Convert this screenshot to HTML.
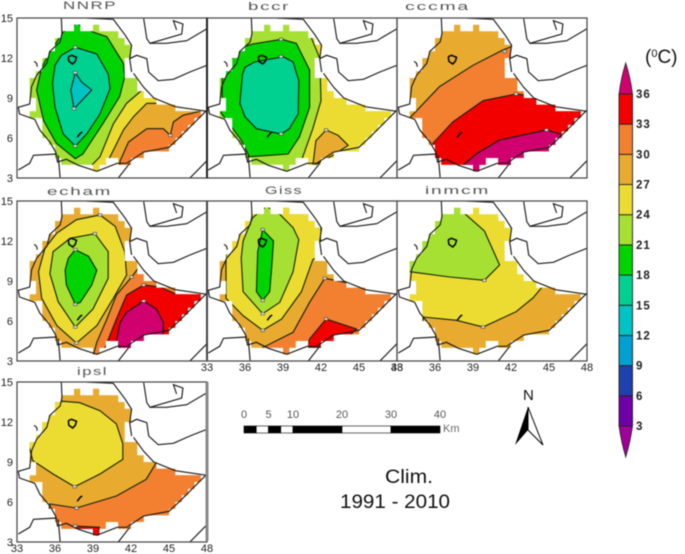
<!DOCTYPE html>
<html lang="en">
<head>
<meta charset="utf-8">
<title>Climatology 1991-2010 temperature maps</title>
<style>
html,body{margin:0;padding:0;background:#fff;width:685px;height:554px;overflow:hidden}
svg{display:block;filter:blur(0.55px)}
text{font-family:"Liberation Sans",sans-serif}
</style>
</head>
<body>
<svg id="figure" xmlns="http://www.w3.org/2000/svg" width="685" height="554" viewBox="0 0 685 554">
  <defs id="defs"></defs>
  <g id="panels"></g>
  <g id="colorbar"></g>
  <text x="645" y="63" font-size="19" fill="#111">(<tspan font-size="11" dy="-6">0</tspan><tspan dy="6">C)</tspan></text>
  <g id="scalebar"></g>
  <g>
    <text x="523" y="400" font-size="15" fill="#111">N</text>
    <polygon points="528,407 515,445 528,430" fill="#000"></polygon>
    <polygon points="528,407 543,445 528,430" fill="#fff" stroke="#000" stroke-width="1"></polygon>
  </g>
  <text x="385" y="483" font-size="19" textLength="48" lengthAdjust="spacingAndGlyphs" fill="#111">Clim.</text>
  <text x="340" y="508" font-size="19" textLength="110" lengthAdjust="spacingAndGlyphs" fill="#111">1991 - 2010</text>
</svg>
<script>
// ---- data: colour levels (deg C)
const levels = [3, 6, 9, 12, 15, 18, 21, 24, 27, 30, 33, 36];
const lonTicks = [33, 36, 39, 42, 45, 48];
const latTicks = [15, 12, 9, 6, 3];
const scaleKm = [0, 2.5, 5, 7.5, 10, 20, 30, 40];
const scaleLabels = [0, 5, 10, 20, 30, 40];

// ---- data: gridded country mask [lon, lat]
const countryMask = [[36.5,14],[37.5,14],[37.5,14.5],[38,14.5],[38,14],[39,14],[39,14.5],[39.5,14.5],[39.5,14],[41,14],[41,13.5],[41.5,13.5],[41.5,13],[42,13],[42,12],[41.5,12],[41.5,10.5],[42.5,10.5],[42.5,9.5],[43,9.5],[43,9],[44,9],[44,8.5],[45.5,8.5],[45.5,8],[47.5,8],[47.5,7.5],[47,7.5],[47,7],[46.5,7],[46.5,6.5],[46,6.5],[46,6],[45.5,6],[45.5,5.5],[45,5.5],[45,5],[43,5],[43,4.5],[42,4.5],[42,4],[41,4],[41,4.5],[40,4.5],[40,4],[39.5,4],[39.5,3.5],[39,3.5],[39,4],[36.5,4],[36.5,4.5],[36,4.5],[36,5.5],[35.5,5.5],[35.5,6],[35,6],[35,7.5],[34,7.5],[34,8],[34.5,8],[34.5,9],[34,9],[34,10.5],[34.5,10.5],[34.5,11],[35,11],[35,12],[35.5,12],[35.5,12.5],[36,12.5],[36,13.5],[36.5,13.5]];

// ---- data: political boundaries and coastlines [lon, lat]
const borderWest = [[36.5,15],[36.55,13.85],[36.4,13.2],[35.6,12.5],[35.35,11.6],[34.55,10.7],[34.15,9.85],[34,8.55],[33.1,8.3],[33.2,7.8],[34.4,7.4],[34.8,6.6],[35.6,5.7],[36.05,4.95],[36.2,4.2],[36.9,4.4],[37.85,3.95],[39.3,3.5],[40.9,4.1],[41.65,4.1],[43,4.95],[45,5.3],[45.9,6.1],[48,8.1]];
const borderHorn = [[48,8],[45.5,8.35],[43.8,9],[43,9.8],[42.2,10.85]];
const borderEritrea = [[38.5,15],[40.6,14.9],[41.55,13.7],[42.05,12.95],[41.9,11.95],[42.05,10.95]];
const coastGulf = [[41.9,11.95],[42.45,12.2],[43.25,11.95],[43.4,10.95],[44.15,10.3],[45.35,10.4],[46.65,10.95],[48,11.45]];
const coastYemen = [[43,14.95],[43.25,13.45],[43.5,13.1],[46,13.8],[46.1,14.55],[45.35,14.8],[45.6,14.1]];
const coastYemenEast = [[43.5,13.1],[44.8,13.1],[46.4,13.3],[48,14.2]];
const borderSomaliSouth = [[46.65,3],[48,4.3]];
const borderKenyaEast = [[41,3],[41.9,4.1]];
const borderKenyaNorth = [[33.1,3.6],[34,4.1],[34.3,4.7],[36.15,4.8]];
const borderLakeTurkana = [[36.25,4.7],[36.4,3.05]];
const islandNile = [[34.35,11.75],[34.55,11.6],[34.6,11.35]];
const lakeTana = [[37.05,12.1],[37.3,12.2],[37.7,12.05],[37.6,11.75],[37.4,11.55],[37.1,11.75],[37.05,12.1]];
const lakeAbaya = [[37.75,6.05],[38,6.35],[38.15,6.45]];
const baseLines = [borderWest,borderHorn,borderEritrea,coastGulf,coastYemen,coastYemenEast,borderSomaliSouth,borderKenyaEast,borderKenyaNorth,borderLakeTurkana,islandNile];
const lakeLines = [lakeTana,lakeAbaya];

// ---- data: contour bands per model [lon, lat]
const nnrpYellow = [[43,9.7],[41.65,8.6],[40.6,7.05],[39.55,4.6],[38.75,3.8],[38.5,3],[48,3],[48,10]];
const nnrpGold = [[39.5,3],[39.8,3.6],[40.35,4.6],[41.4,6.6],[42.2,7.6],[43.25,8.6],[44.5,8.6],[48,8.6],[48,3]];
const nnrpOrange = [[41,3],[41.15,4.3],[41.8,5.7],[43.25,6.7],[44.55,6.7],[45.1,6.2],[45.35,7.2],[46.1,7.7],[47.45,8],[48,8.5],[48,3]];
const nnrpGreen = [[39,13.95],[40.1,13.6],[41.4,11.6],[41.5,10.6],[41.1,9.1],[39.8,7.1],[38.2,4.8],[37.6,4.45],[36.1,5.6],[35.1,7.3],[34.55,9.6],[34.95,11.3],[35.6,12.45],[36.65,13.95],[37.7,14.6]];
const nnrpTeal = [[37.6,12.8],[39.3,12.3],[40.2,10.8],[40.35,9.7],[39.55,7.8],[38.5,6.3],[37.6,5.4],[36.65,6.3],[36,8.3],[35.8,10.1],[36,11.45],[36.5,12.2]];
const nnrpCyan = [[37.6,10.9],[38.1,10.2],[38.9,9.6],[38.25,8.95],[37.5,8.2],[37.25,9.6]];
const nnrpMarks = [[37.6,12.8],[37.6,10.9],[37.6,5.4],[37.5,8.2],[45.1,6.2]];

const bccrYellow = [[41.2,15],[41.2,13.6],[41.85,12.1],[41.95,10.45],[42,8.8],[41.35,6.7],[40.6,4.7],[40.3,3.9],[40,3],[48,3],[48,15]];
const bccrGold = [[42.4,6.6],[43.35,6.2],[44.15,5.45],[42.95,4.7],[41.35,3.9],[41.6,5.8]];
const bccrGreen = [[36.6,13.05],[38.9,13.4],[40.05,13.1],[41.1,11.1],[41.1,8.3],[40.3,6.1],[39.4,4.8],[36.35,4.6],[35.7,5.85],[34.1,7.9],[34.2,8.3],[34.2,10.6],[35.4,12.7]];
const bccrTeal = [[36.75,11.7],[37.3,11.8],[39,12.1],[39.8,11.7],[40.25,10.3],[40.2,7.8],[39.5,6.7],[38.85,6.3],[36.9,6.7],[36,7.6],[35.6,8.6],[35.8,10.8],[36,11.3]];
const bccrMarks = [[38.85,13.4],[38.85,12.1],[38.85,6.3],[42.4,6.6]];

const cccmaOrange = [[34,7.5],[36.35,9.85],[39,11.45],[41.35,12.6],[41.9,12.8],[48,15],[48,3],[34,3]];
const cccmaRed = [[35.85,5.6],[37.4,7.2],[39.8,8.8],[42.4,9.3],[43.45,9.2],[45,9.5],[48,9],[48,3],[35.85,3]];
const cccmaMagenta = [[38.2,3.95],[39.25,4.8],[41.1,5.85],[44.8,6.6],[45.85,6.3],[48,5],[48,3],[38.2,3]];
const cccmaMarks = [[41.5,12.5],[42.4,9.3],[44.8,6.6]];

const echamYellow = [[34.7,9.7],[34.95,7.7],[36.15,5.65],[37.7,4.35],[39.3,5.65],[40.6,7.7],[41.65,9.45],[41.5,11.2],[40.75,13.1],[39.55,13.95],[37.7,13.6],[36.15,12.6],[35.2,11.45]];
const echamLime = [[35.6,9.55],[35.85,11.2],[37.2,12.2],[39.15,12.55],[40.2,11.2],[40.2,9.2],[39,6.9],[37.6,5.55],[36.25,7.45]];
const echamGreen = [[37.6,11.35],[38.65,10.85],[39.3,9.8],[38.9,8.7],[38,7.4],[37.6,7.25],[36.9,8.7],[36.8,9.8],[37.05,10.7]];
const echamOrange = [[38.9,3],[39.3,4.4],[40.1,6.15],[40.85,7.95],[42.05,9.3],[42.6,10],[44,10],[48,9],[48,3]];
const echamRed = [[39.95,3],[39.95,4],[40.85,6.15],[41.65,7.95],[43,8.7],[44.3,8.55],[45.5,8.05],[48,8.1],[48,3]];
const echamMagenta = [[40.85,4.5],[41.15,5.9],[41.65,6.65],[43,7.5],[44,6.9],[44.55,5.9],[44.55,5],[43,4.4],[41.9,3.9],[41.15,3.9]];
const echamMarks = [[37.6,11.35],[37.6,7.25],[37.6,5.55],[39.15,12.55],[39.55,13.95],[43,7.5],[43,8.7],[42.05,9.3],[37.7,4.35]];

const gissYellow = [[34.5,7.7],[35.85,6.4],[37.4,5.3],[38.9,6.15],[40.45,8.2],[41.35,10.6],[42,11],[42,15],[35,15],[34.5,12],[34.5,10.5]];
const gissLime = [[37.7,14.6],[38.75,14],[39.8,13],[40.25,12.1],[39.8,9.7],[38.75,7.4],[37.4,6.55],[35.85,8.2],[35.7,10.7],[35.85,12],[36.6,13.75]];
const gissGreen = [[37.4,12.85],[38.25,12],[38.1,9.95],[37.95,8.2],[37.4,7.55],[36.9,8.2],[37,11.2]];
const gissOrange = [[37,3],[37,3.8],[37.7,4.15],[39.8,5.15],[41.1,7.4],[42.3,9.2],[45.5,8.6],[48,8.6],[48,3]];
const gissRed = [[42.4,6.15],[44.8,5.4],[44.25,4.9],[41.9,4],[40.9,4],[41.1,4.65]];
const gissMarks = [[37.4,12.85],[37.4,7.55],[37.4,6.55],[37.4,5.3],[42.4,6.15],[42.3,9.2]];

const inmcmLime = [[38.1,15],[38.35,14.05],[39.9,12.75],[41.1,10.2],[39.9,9.05],[37.15,9.3],[34,9.7],[33,9.7],[33,15]];
const inmcmGold = [[35.05,6.3],[37.7,6.05],[39.8,5.55],[42.4,6.7],[43.75,7.75],[44.5,8.6],[48,8.6],[48,3],[35,3]];
const inmcmMarks = [[39.9,9.05],[39.8,5.55]];

const ipslYellow = [[36.65,13.55],[37.95,13.45],[39.55,12.85],[40.85,11.85],[41.35,10.35],[41.35,9.2],[39.55,8.1],[37.55,7.15],[35.85,8.1],[34.25,9.1],[34,10],[33.5,11],[35,13.5]];
const ipslOrange = [[44,8.95],[43.2,7.7],[40.85,6.45],[37.7,5.55],[35.6,5.85],[35,3],[48,3],[48,8.95]];
const ipslRed = [[37.6,4.2],[39.5,4.1],[39.5,3.4],[39,3.4],[39,3.95],[37.6,4]];
const ipslMarks = [[37.55,7.15],[37.7,5.55],[37.6,4.2]];

// ---- model definitions (band = lower bound of colour level)
const panelNames = ['NNRP','bccr','cccma','echam','Giss','inmcm','ipsl'];
const panelBases = [21, 21, 27, 27, 27, 24, 27];
const panelLayers = [
  [[24,nnrpYellow],[27,nnrpGold],[30,nnrpOrange],[18,nnrpGreen],[15,nnrpTeal],[12,nnrpCyan]],
  [[24,bccrYellow],[27,bccrGold],[18,bccrGreen],[15,bccrTeal]],
  [[30,cccmaOrange],[33,cccmaRed],[36,cccmaMagenta]],
  [[24,echamYellow],[21,echamLime],[18,echamGreen],[30,echamOrange],[33,echamRed],[36,echamMagenta]],
  [[24,gissYellow],[21,gissLime],[18,gissGreen],[30,gissOrange],[33,gissRed]],
  [[21,inmcmLime],[27,inmcmGold]],
  [[24,ipslYellow],[30,ipslOrange],[33,ipslRed]]
];
const panelMarks = [nnrpMarks,bccrMarks,cccmaMarks,echamMarks,gissMarks,inmcmMarks,ipslMarks];

// ---- style and layout (not data)
const bandColor = {0:'#a0009a',3:'#6f00a8',6:'#2040b0',9:'#00a0d0',12:'#00c4c4',15:'#00d090',18:'#00d400',21:'#a5e033',24:'#ecdc32',27:'#e8ab30',30:'#f28030',33:'#f20000',36:'#d0006e'};
const panelBoxes = [
  {x:17,y:18,title:[63,117,9],yl:true,xl:false},
  {x:207,y:18,title:[248,290,10],yl:false,xl:false},
  {x:397,y:18,title:[405,470,10],yl:false,xl:false},
  {x:17,y:201,title:[47,112,195],yl:true,xl:false},
  {x:207,y:201,title:[265,303,194],yl:false,xl:true},
  {x:397,y:201,title:[425,490,194],yl:false,xl:true},
  {x:17,y:382,title:[77,108,375],yl:true,xl:true}
];
const PW = 190, PH = 160;
const NS = 'http://www.w3.org/2000/svg';
function mk(tag, attrs, parent){
  const e = document.createElementNS(NS, tag);
  for (const k in attrs) e.setAttribute(k, attrs[k]);
  parent.appendChild(e);
  return e;
}
const defs = document.getElementById('defs');
const panelsG = document.getElementById('panels');

panelNames.forEach(function(name, i){
  const box = panelBoxes[i];
  const lonX = function(lon){ return box.x + (lon - 33) / 15 * PW; };
  const latY = function(lat){ return box.y + (15 - lat) / 12 * PH; };
  const toPts = function(arr){ return arr.map(function(p){ return lonX(p[0]).toFixed(1) + ',' + latY(p[1]).toFixed(1); }).join(' '); };
  const slug = name.toLowerCase();

  const g = mk('g', {}, panelsG);
  
  

  const maskClip = mk('clipPath', {id:'mask' + i}, defs);
  mk('polygon', {points:toPts(countryMask)}, maskClip);
  const frameClip = mk('clipPath', {id:'frame' + i}, defs);
  mk('rect', {x:box.x, y:box.y, width:PW, height:PH}, frameClip);

  const fill = mk('g', {'clip-path':'url(#mask' + i + ')'}, g);
  
  
  const base = mk('rect', {x:box.x, y:box.y, width:PW, height:PH, fill:bandColor[panelBases[i]]}, fill);
  
  
  panelLayers[i].forEach(function(layer){
    const poly = mk('polygon', {points:toPts(layer[1]), fill:bandColor[layer[0]], stroke:'#10200f', 'stroke-width':'1.1'}, fill);
    
    
  });

  const map = mk('g', {'clip-path':'url(#frame' + i + ')', fill:'none', stroke:'#1a1a1a', 'stroke-width':'1.15'}, g);
  
  
  baseLines.forEach(function(line){
    const pl = mk('polyline', {points:toPts(line)}, map);
    
    
  });
  lakeLines.forEach(function(line){
    const pl = mk('polyline', {points:toPts(line), 'stroke-width':'1.5', stroke:'#000'}, map);
    
    
  });

  panelMarks[i].forEach(function(p){
    const d = mk('rect', {x:lonX(p[0]) - 1.8, y:latY(p[1]) - 1.3, width:3.6, height:2.6, fill:'#d8d8d8', stroke:'#333', 'stroke-width':'0.5'}, g);
    
    
  });

  const frame = mk('rect', {x:box.x, y:box.y, width:PW, height:PH, fill:'none', stroke:'#444', 'stroke-width':'1.2'}, g);
  
  

  const title = mk('text', {x:box.title[0], y:box.title[2], textLength:box.title[1] - box.title[0], lengthAdjust:'spacingAndGlyphs', 'font-size':'11', 'letter-spacing':'1', fill:'#555'}, g);
  
  
  title.textContent = name;

  if (box.yl) latTicks.forEach(function(v){
    const t = mk('text', {x:box.x - 4, y:latY(v) + 4, 'text-anchor':'end', 'font-size':'11', fill:'#222'}, g);
    
    
    t.textContent = v;
  });
  if (box.xl) lonTicks.forEach(function(v){
    const t = mk('text', {x:lonX(v), y:box.y + PH + 10, 'text-anchor':'middle', 'font-size':'11', fill:'#222'}, g);
    
    
    t.textContent = v;
  });
});

// thicker dark column separators seen on the right of the left-hand panels
[[207,18,178,'#222',2],[207,201,360,'#444',2],[207,382,541,'#888',3]].forEach(function(s){
  const l = mk('line', {x1:s[0], x2:s[0], y1:s[1], y2:s[2], stroke:s[3], 'stroke-width':s[4]}, panelsG);
  
  
});

// ---- colour bar
(function(){
  const g = document.getElementById('colorbar');
  const cbY = function(v){ return 94 + (36 - v) * 10.06; };
  const x0 = 619, x1 = 632.5, xm = (x0 + x1) / 2;
  const top = mk('path', {d:'M' + x0 + ' ' + cbY(36) + ' Q' + (x0 + 2) + ' 78 ' + xm + ' 63 Q' + (x1 - 2) + ' 78 ' + x1 + ' ' + cbY(36) + ' Z', fill:bandColor[36], stroke:'#222', 'stroke-width':'0.8'}, g);
  
  
  const bot = mk('path', {d:'M' + x0 + ' ' + cbY(3) + ' Q' + (x0 + 2) + ' 441 ' + xm + ' 457 Q' + (x1 - 2) + ' 441 ' + x1 + ' ' + cbY(3) + ' Z', fill:bandColor[0], stroke:'#222', 'stroke-width':'0.8'}, g);
  
  
  levels.forEach(function(v, i){
    if (i < levels.length - 1) {
      const r = mk('rect', {x:x0, y:cbY(levels[i + 1]), width:x1 - x0, height:cbY(v) - cbY(levels[i + 1]), fill:bandColor[v], stroke:'#222', 'stroke-width':'0.9'}, g);
      
      
    }
    const t = mk('text', {x:636, y:cbY(v) + 4, 'font-size':'11.5', 'font-weight':'bold', 'letter-spacing':'1', fill:'#222'}, g);
    
    
    t.textContent = v;
  });
})();

// ---- scale bar
(function(){
  const g = document.getElementById('scalebar');
  const kmX = function(k){ return 244 + k * 4.9; };
  scaleKm.slice(0, -1).forEach(function(k, i){
    const r = mk('rect', {x:kmX(k), y:426, width:kmX(scaleKm[i + 1]) - kmX(k), height:7, fill:(i % 2 === 0 ? '#000' : '#fff'), stroke:'#000', 'stroke-width':'0.6'}, g);
    
    
  });
  scaleLabels.forEach(function(k){
    const t = mk('text', {x:kmX(k), y:418, 'text-anchor':'middle', 'font-size':'11', fill:'#555'}, g);
    
    
    t.textContent = k;
  });
  const u = mk('text', {x:443, y:432, 'font-size':'11', fill:'#666'}, g);
  
  
  u.textContent = 'Km';
})();
</script>
</body>
</html>
